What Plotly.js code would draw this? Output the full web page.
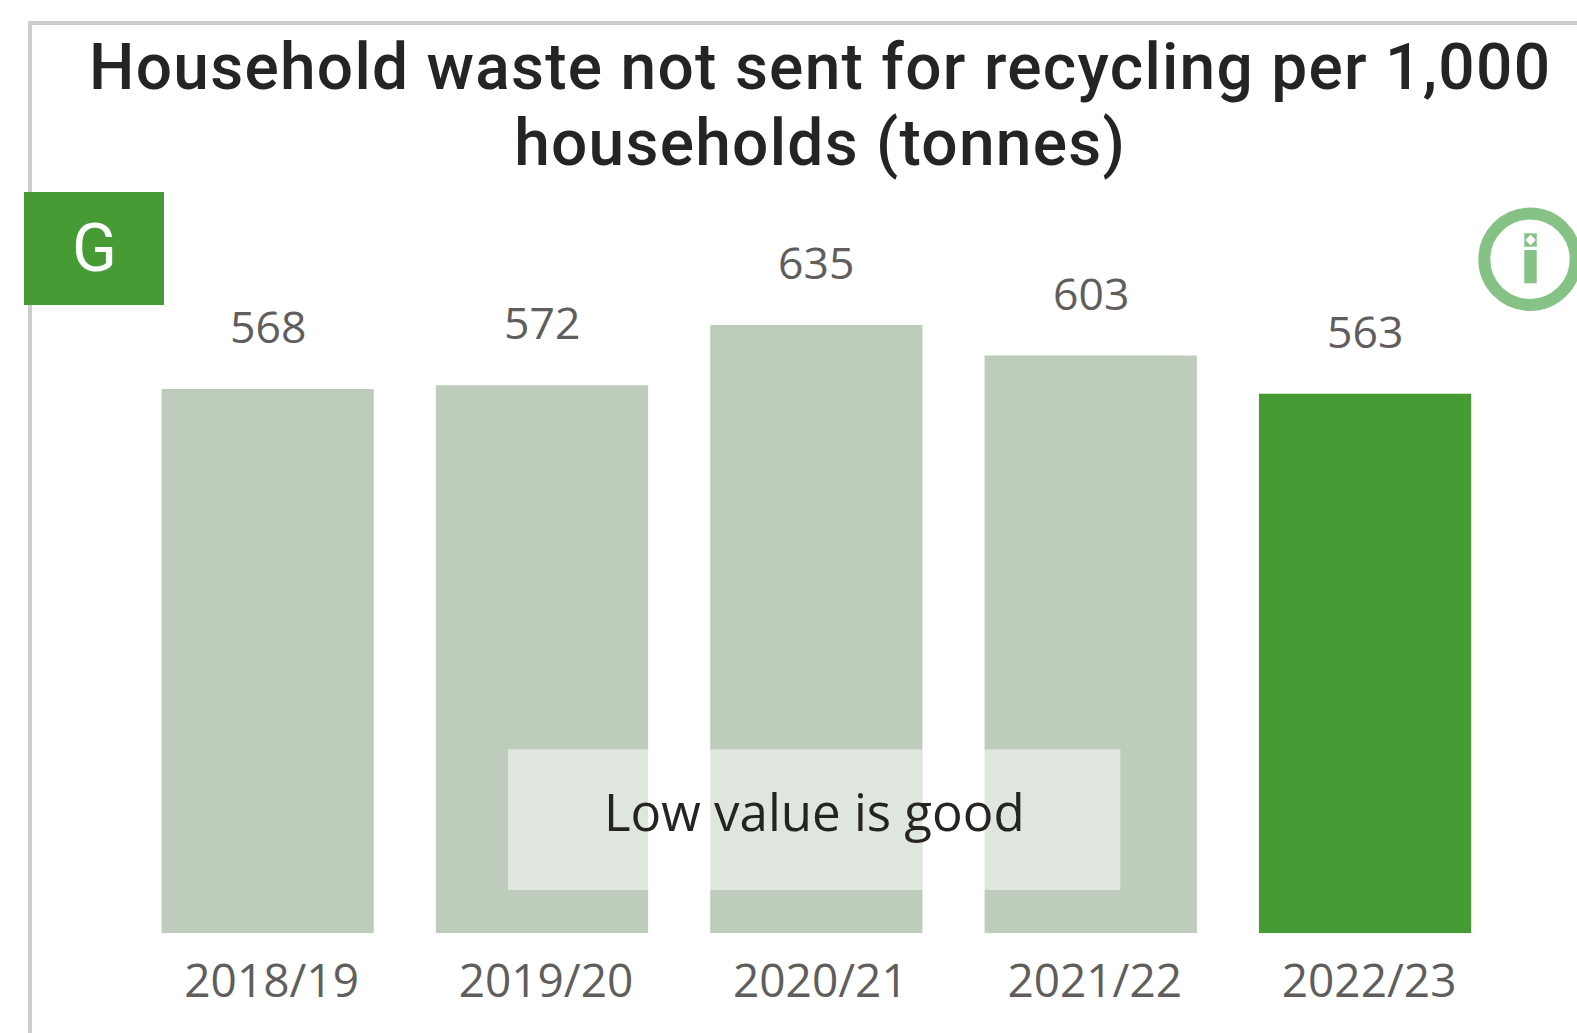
<!DOCTYPE html>
<html><head><meta charset="utf-8">
<script src="https://cdn.plot.ly/plotly-3.0.1.min.js"></script>
<style>html,body{margin:0;padding:0;background:#fff;overflow:hidden}#c{width:1577px;height:1033px}
.gtitle{letter-spacing:1.28px}</style>
</head><body><div id="c"></div>
<script>
var categories = ["2018/19","2019/20","2020/21","2021/22","2022/23"];
var values = [568,572,635,603,563];
var barColors = ["#bdccbb","#bdccbb","#bdccbb","#bdccbb","#469b35"];
var titleText = "Household waste not sent for recycling per 1,000<br>households (tonnes)";
var W=1577,H=1033;
var S=1577/1568;
function px(x){return x*S/W;} function py(y){return 1-y*S/H;}
function rx(x){return x/W;} function ry(y){return 1-y/H;}
var labelFont={family:"Open Sans, Noto Sans, sans-serif",size:44.5,color:"#605e5c"};
var trace = {type:"bar",x:categories,y:values,marker:{color:barColors,line:{width:0}},width:0.7736,
 textposition:"none",cliponaxis:false,hoverinfo:"skip"};
var valueNotes = categories.map(function(c,i){
 return {xref:"x",yref:"y",x:c,y:values[i],yshift:63.5,xanchor:"center",yanchor:"middle",showarrow:false,text:String(values[i]),font:labelFont};
});
var layout = {
 width:W,height:H,paper_bgcolor:"#fff",plot_bgcolor:"#fff",showlegend:false,
 margin:{l:0,r:0,t:0,b:0},
 title:{text:titleText,x:px(815.5),xanchor:"center",xref:"paper",y:py(88),yref:"paper",yanchor:"middle",
  font:{family:"Roboto, Noto Sans, sans-serif",size:64,weight:500,color:"#252423"}},
 xaxis:{domain:[px(129.7),px(1493.7)],type:"category",tickfont:{family:"Open Sans, Noto Sans, sans-serif",size:46,color:"#605e5c"},ticks:"",ticklabelstandoff:17,ticklabelshift:4,showline:false,showgrid:false,zeroline:false,automargin:false},
 yaxis:{domain:[py(928),py(323)],range:[0,635],visible:false,showgrid:false,zeroline:false},
 shapes:[
  {type:"line",xref:"paper",yref:"paper",x0:rx(30),x1:rx(30),y0:0,y1:ry(21),line:{color:"#cccccc",width:4},layer:"below"},
  {type:"line",xref:"paper",yref:"paper",x0:rx(28),x1:1,y0:ry(23),y1:ry(23),line:{color:"#cccccc",width:4},layer:"below"},
  {type:"rect",xref:"paper",yref:"paper",x0:px(505),x1:px(1114),y0:py(885),y1:py(745),fillcolor:"rgba(255,255,255,0.5)",line:{width:0},layer:"above"},
  {type:"rect",xref:"paper",yref:"paper",x0:rx(24),x1:rx(164),y0:ry(305),y1:ry(192),fillcolor:"#469b35",line:{width:0},layer:"above"},
  {type:"circle",xref:"paper",yref:"paper",x0:rx(1484.3),x1:rx(1575.7),y0:ry(305),y1:ry(213.6),fillcolor:"rgba(0,0,0,0)",line:{color:"#86c286",width:12},layer:"above"},
  {type:"rect",xref:"paper",yref:"paper",x0:rx(1524.3),x1:rx(1536.7),y0:ry(283.3),y1:ry(250),fillcolor:"#86c286",line:{width:0},layer:"above"},
  {type:"rect",xref:"paper",yref:"paper",x0:rx(1524.3),x1:rx(1536.7),y0:ry(246.7),y1:ry(233.3),fillcolor:"#86c286",line:{width:0},layer:"above"},
  {type:"path",xref:"paper",yref:"paper",path:"M "+rx(1530.5)+" "+ry(234.8)+" L "+rx(1535.7)+" "+ry(240)+" L "+rx(1530.5)+" "+ry(245.2)+" L "+rx(1525.3)+" "+ry(240)+" Z",fillcolor:"#ffffff",line:{width:0},layer:"above"}
 ],
 annotations:valueNotes.concat([
  {xref:"paper",yref:"paper",x:px(809.5),y:py(806.5),xanchor:"center",yanchor:"middle",showarrow:false,text:"Low value is good",font:{family:"Open Sans, Noto Sans, sans-serif",size:51,color:"#252423"}},
  {xref:"paper",yref:"paper",x:px(94),y:py(247.5),xanchor:"center",yanchor:"middle",showarrow:false,text:"G",font:{family:"Roboto, Noto Sans, sans-serif",size:66,weight:400,color:"#ffffff"}}
 ])
};
Plotly.newPlot("c",[trace],layout,{displayModeBar:false,staticPlot:true}).then(function(){
 var t=document.querySelectorAll(".gtitle tspan.line");
 if(t.length>1){t[1].setAttribute("dy",(76*S)+"px");}
});
</script></body></html>
